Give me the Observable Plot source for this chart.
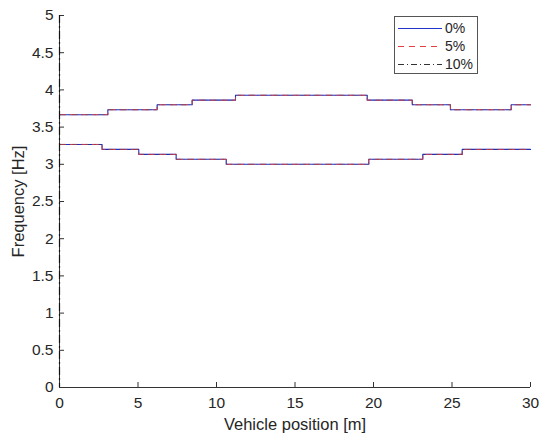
<!DOCTYPE html>
<html>
<head>
<meta charset="utf-8">
<script src="https://cdn.jsdelivr.net/npm/d3@7"></script>
<script src="https://cdn.jsdelivr.net/npm/@observablehq/plot@0.6"></script>
<style>
  body { margin: 0; background: #fff; font-family: Arial, "Liberation Sans", sans-serif; }
  #wrap { position: relative; width: 550px; height: 440px; }
  #legend { position: absolute; left: 394px; top: 16px; }
  .lbl text, text.lbl { font-size: 16.5px; }
</style>
</head>
<body>
<div id="wrap"></div>
<script>
// Step breakpoints (vehicle position, m) and frequency values (Hz)
const upperX = [0, 3.08, 6.22, 8.45, 11.21, 19.60, 22.47, 24.90, 28.77, 30];
const upperF = [3.667, 3.733, 3.800, 3.862, 3.928, 3.862, 3.800, 3.733, 3.800, 3.800];
const lowerX = [0, 2.71, 5.05, 7.43, 10.62, 19.70, 23.14, 25.65, 30];
const lowerF = [3.267, 3.200, 3.133, 3.067, 3.000, 3.067, 3.133, 3.200, 3.200];
const seriesNames = ["0%", "5%", "10%"];
const xTicks = [0, 5, 10, 15, 20, 25, 30];
const yTicks = [0, 0.5, 1, 1.5, 2, 2.5, 3, 3.5, 4, 4.5, 5];

const styles = [
  {stroke: "#2233cc", strokeWidth: 1.1, strokeDasharray: null, strokeOpacity: 1},
  {stroke: "#e04040", strokeWidth: 1, strokeDasharray: "6,5", strokeOpacity: 0.9},
  {stroke: "#333333", strokeWidth: 0.6, strokeDasharray: "6,3,1,3", strokeOpacity: 0.45}
];

const rows = [];
for (const name of seriesNames) {
  upperX.forEach((x, i) => rows.push({series: name, branch: "upper", x, f: upperF[i]}));
  lowerX.forEach((x, i) => rows.push({series: name, branch: "lower", x, f: lowerF[i]}));
}

const W = 550, H = 440, mL = 59, mR = 20, mT = 15, mB = 53;
const txt = "#262626";
const fmt = d => String(d);

const marks = [
  Plot.ruleY([0], {stroke: "#333", strokeWidth: 1}),
  Plot.ruleX([0], {stroke: "#333", strokeWidth: 1}),
  Plot.tickX(xTicks, {x: d => d, stroke: "#333", insetTop: H - mT - mB - 5}),
  Plot.tickY(yTicks, {y: d => d, stroke: "#333", insetRight: W - mL - mR - 5}),
  Plot.axisX(xTicks, {tickSize: 0, tickPadding: 9, fontSize: 15.5, fill: txt, tickFormat: fmt, label: null}),
  Plot.axisX({label: "Vehicle position [m]", ticks: [], tickSize: 0, labelAnchor: "center", labelArrow: "none",
    labelOffset: 42, fontSize: 16.5, fill: txt}),
  Plot.axisY(yTicks, {tickSize: 0, tickPadding: 6, fontSize: 15.5, fill: txt, tickFormat: fmt, label: null}),
  Plot.axisY({label: "Frequency [Hz]", ticks: [], tickSize: 0, labelAnchor: "center", labelArrow: "none",
    labelOffset: 47, fontSize: 16.5, fill: txt})
];
seriesNames.forEach((name, k) => {
  for (const br of ["upper", "lower"]) {
    marks.push(Plot.line(rows.filter(r => r.series === name && r.branch === br),
      {x: "x", y: "f", curve: "step-after", ...styles[k]}));
  }
});
// dash-dot trace along the left edge
marks.push(Plot.ruleX([0], {stroke: "#111", strokeWidth: 1.2, strokeDasharray: "8,3,2,3"}));

const chart = Plot.plot({
  width: W, height: H,
  marginLeft: mL, marginRight: mR, marginTop: mT, marginBottom: mB,
  style: {fontFamily: "Arial, 'Liberation Sans', sans-serif", fontSize: "15.5px", color: txt, background: "#fff"},
  x: {domain: [0, 30]},
  y: {domain: [0, 5]},
  marks
});
const wrap = document.getElementById("wrap");
wrap.appendChild(chart);

// Legend
const ns = "http://www.w3.org/2000/svg";
const lg = document.createElementNS(ns, "svg");
lg.setAttribute("id", "legend");
lg.setAttribute("width", 85);
lg.setAttribute("height", 59);
const box = document.createElementNS(ns, "rect");
box.setAttribute("x", 0.5); box.setAttribute("y", 0.5);
box.setAttribute("width", 83); box.setAttribute("height", 57);
box.setAttribute("fill", "#fff"); box.setAttribute("stroke", "#555"); box.setAttribute("stroke-width", 1);
lg.appendChild(box);
const legendStyles = [
  {stroke: "#2233cc", dash: null},
  {stroke: "#e04040", dash: "6,5"},
  {stroke: "#333333", dash: "6,3,1,3"}
];
seriesNames.forEach((name, k) => {
  const y = 12.5 + k * 18;
  const ln = document.createElementNS(ns, "line");
  ln.setAttribute("x1", 4); ln.setAttribute("x2", 48);
  ln.setAttribute("y1", y); ln.setAttribute("y2", y);
  ln.setAttribute("stroke", legendStyles[k].stroke);
  ln.setAttribute("stroke-width", 1);
  if (legendStyles[k].dash) ln.setAttribute("stroke-dasharray", legendStyles[k].dash);
  lg.appendChild(ln);
  const t = document.createElementNS(ns, "text");
  t.setAttribute("x", 51); t.setAttribute("y", y);
  t.setAttribute("dy", "0.35em");
  t.setAttribute("font-size", 14);
  t.setAttribute("fill", txt);
  t.setAttribute("font-family", "Arial, 'Liberation Sans', sans-serif");
  t.textContent = name;
  lg.appendChild(t);
});
wrap.appendChild(lg);
</script>
</body>
</html>
